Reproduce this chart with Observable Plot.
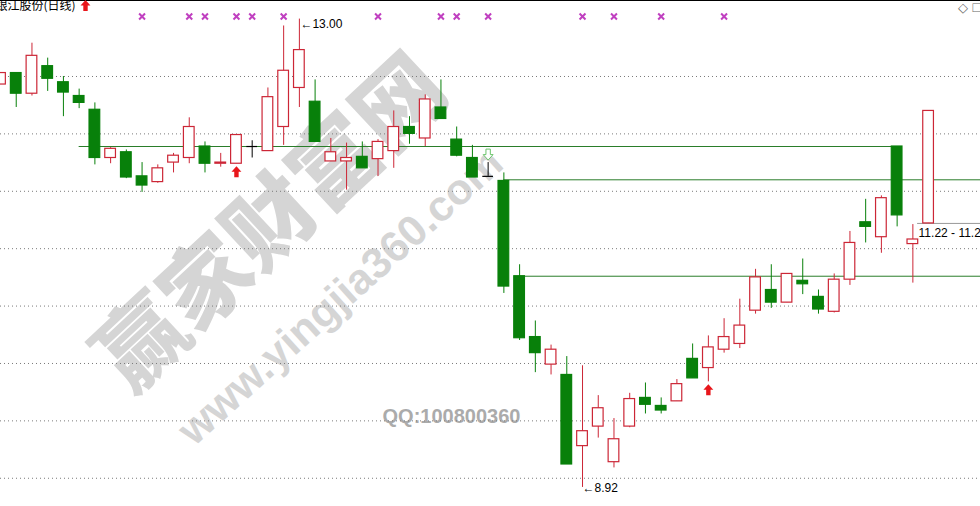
<!DOCTYPE html>
<html>
<head>
<meta charset="utf-8">
<script src="https://cdn.jsdelivr.net/npm/d3@7"></script>
<script src="https://cdn.jsdelivr.net/npm/@observablehq/plot@0.6"></script>
<style>
  html, body { margin: 0; padding: 0; background: #fff; }
  #chart svg { display: block; overflow: hidden; }
</style>
</head>
<body>
<div id="chart"></div>
<script>
// ---- data (daily candles, left to right) ----
const opens  = [12.43,12.53,12.35,12.59,12.45,12.33,12.21,11.79,11.84,11.63,11.58,11.75,11.79,11.89,11.74,11.74,11.89,11.85,12.06,12.40,12.28,11.76,11.76,11.80,11.78,11.85,12.06,11.96,12.23,11.95,11.79,11.63,11.59,10.76,10.23,9.99,9.90,9.28,9.45,9.14,9.45,9.70,9.63,9.67,10.04,9.96,10.12,10.17,10.46,10.64,10.53,10.72,10.58,10.45,10.73,11.23,11.10,11.89,11.04,11.22];
const closes = [12.53,12.35,12.68,12.48,12.36,12.27,11.79,11.87,11.62,11.55,11.70,11.81,12.06,11.74,11.75,11.99,11.89,12.32,12.55,12.73,11.93,11.84,11.79,11.70,11.93,12.06,12.00,12.30,12.13,11.81,11.62,11.63,10.67,10.22,10.09,10.12,9.12,9.41,9.61,9.34,9.69,9.64,9.59,9.82,9.87,10.14,10.23,10.33,10.75,10.53,10.78,10.69,10.47,10.73,11.05,11.19,11.44,11.29,11.08,12.20];
const highs  = [12.53,12.53,12.79,12.66,12.50,12.39,12.27,11.88,11.86,11.75,11.73,11.83,12.14,11.93,11.83,11.99,11.94,12.40,12.94,13.00,12.47,11.96,11.92,11.93,11.95,12.20,12.15,12.34,12.47,12.06,11.90,11.75,11.66,10.86,10.37,10.16,10.06,9.98,9.72,9.52,9.74,9.83,9.70,9.86,10.17,10.24,10.39,10.56,10.82,10.86,10.78,10.91,10.64,10.78,11.15,11.43,11.46,11.89,11.21,12.20];
const lows   = [12.43,12.23,12.33,12.37,12.15,12.22,11.73,11.74,11.61,11.49,11.57,11.66,11.74,11.66,11.71,11.74,11.79,11.85,11.90,12.23,11.93,11.76,11.51,11.70,11.63,11.70,11.91,11.89,12.13,11.80,11.62,11.63,10.61,10.20,9.92,9.90,9.12,8.92,9.35,9.09,9.44,9.56,9.56,9.67,9.87,9.84,10.09,10.13,10.43,10.48,10.53,10.60,10.43,10.44,10.68,11.05,10.96,11.19,10.70,11.22];

const gridLevels  = [9.0, 9.5, 10.0, 10.5, 11.0, 11.5, 12.0, 12.5];
const lineLevels  = [11.89, 11.60, 10.76];
const lineStarts  = [5, 32, 33];
const lineEnds    = [57, null, null];
const markerIdx   = [9, 12, 13, 15, 16, 18, 24, 28, 29, 31, 37, 39, 42, 46];
const buyIdx      = [15, 45];
const sellIdx     = [31];
const highLabelIdx = 19;
const lowLabelIdx  = 37;
const lastIdx      = 59;
const titleText = "银江股份(日线)";

// ---- build table ----
const candles = opens.map((o, i) => ({i, o, c: closes[i], h: highs[i], l: lows[i]}));
const RED = "#cc2636", GREEN = "#08800a", LINE = "#2a7d2a";
const colorOf = d => d.c > d.o ? RED : d.c < d.o ? GREEN : "#000";
const half = 0.34;
const xMax = 62.3;
const bodies = candles.filter(d => d.c !== d.o);
const dojis = candles.filter(d => d.c === d.o);
const lines = lineLevels.map((v, k) => ({v, a: lineStarts[k], b: lineEnds[k] == null ? xMax : lineEnds[k]}));

const upArrow = {draw(ctx, size) {
  const r = Math.sqrt(size / Math.PI);
  ctx.moveTo(0, -r); ctx.lineTo(0.9 * r, 0); ctx.lineTo(0.4 * r, 0); ctx.lineTo(0.4 * r, r);
  ctx.lineTo(-0.4 * r, r); ctx.lineTo(-0.4 * r, 0); ctx.lineTo(-0.9 * r, 0); ctx.closePath();
}};
const downArrow = {draw(ctx, size) {
  const r = Math.sqrt(size / Math.PI);
  ctx.moveTo(0, r); ctx.lineTo(0.9 * r, 0); ctx.lineTo(0.4 * r, 0); ctx.lineTo(0.4 * r, -r);
  ctx.lineTo(-0.4 * r, -r); ctx.lineTo(-0.4 * r, 0); ctx.lineTo(-0.9 * r, 0); ctx.closePath();
}};

const numFont = "'Liberation Sans', Arial, sans-serif";
const cjkFont = "'Noto Sans CJK SC', sans-serif";

const chart = Plot.plot({
  width: 980,
  height: 506,
  margin: 0,
  x: {domain: [0, xMax], axis: null},
  y: {domain: [8.754, 13.162], axis: null},
  style: {background: "#fff", fontFamily: numFont},
  marks: [
    // watermark
    Plot.text([titleText], {text: () => "赢家财富网", frameAnchor: "top-left", dx: 272, dy: 224, rotate: -43,
      textAnchor: "middle", lineAnchor: "middle",
      fontSize: 88, fontWeight: 900, fill: "#d5d5d5", fontFamily: cjkFont}),
    Plot.text([titleText], {text: () => "www.yingjia360.com", frameAnchor: "top-left", dx: 340, dy: 296, rotate: -42,
      textAnchor: "middle", lineAnchor: "middle",
      fontSize: 43, fontWeight: "bold", fill: "#d5d5d5", fontFamily: numFont}),
    Plot.text([titleText], {text: () => "QQ:100800360", frameAnchor: "top-left", dx: 451, dy: 416,
      textAnchor: "middle", lineAnchor: "middle",
      fontSize: 20, fontWeight: "bold", fill: "#ababab", fontFamily: numFont}),
    // grid
    Plot.ruleY(gridLevels, {stroke: "#7a7a7a", strokeDasharray: "1,3"}),
    Plot.frame({anchor: "top", stroke: "#000"}),
    // support lines
    Plot.ruleY(lines, {y: "v", x1: "a", x2: "b", stroke: LINE, strokeWidth: 1}),
    // price label line of last candle
    Plot.ruleY([candles[lastIdx]], {y: "o", x1: d => d.i - 0.7, x2: xMax, stroke: "#999"}),
    // wicks
    Plot.ruleX(candles, {x: "i", y1: "l", y2: "h", stroke: colorOf, strokeWidth: 1}),
    // bodies
    Plot.rect(bodies, {x1: d => d.i - half, x2: d => d.i + half, y1: "o", y2: "c",
      fill: d => d.c > d.o ? "#fff" : GREEN, stroke: colorOf, strokeWidth: 1.2}),
    // doji crosses
    Plot.ruleY(dojis, {y: "o", x1: d => d.i - half, x2: d => d.i + half, stroke: "#000", strokeWidth: 1.2}),
    // signal markers
    Plot.dot(markerIdx, {x: d => d, frameAnchor: "top", dy: 16, symbol: "times", r: 2.8, stroke: "#c040c0", strokeWidth: 2}),
    Plot.dot(buyIdx.map(i => candles[i]), {x: "i", y: "l", dy: 8, symbol: upArrow, r: 5.5, fill: "#e8161b", stroke: "none"}),
    Plot.dot(sellIdx.map(i => candles[i]), {x: "i", y: "h", dy: -8, symbol: downArrow, r: 5.5, fill: "#fff", stroke: "#6cc46c", strokeWidth: 1}),
    // high / low labels
    Plot.text([candles[highLabelIdx]], {x: "i", y: "h", text: d => "←" + d.h.toFixed(2), textAnchor: "start", dx: 1, dy: 5, fontSize: 12, fill: "#000"}),
    Plot.text([candles[lowLabelIdx]], {x: "i", y: "l", text: d => "←" + d.l.toFixed(2), textAnchor: "start", dx: 0, dy: 1, fontSize: 12, fill: "#000"}),
    Plot.text([candles[lastIdx]], {x: "i", y: "o", text: d => `${d.o.toFixed(2)} - ${d.o.toFixed(2)}`, textAnchor: "start", dx: -10, dy: 10, fontSize: 12, fill: "#000"}),
    // title
    Plot.text([titleText], {text: d => d, frameAnchor: "top-left", dx: -5, dy: 1, lineAnchor: "top", textAnchor: "start",
      fontSize: 12, fill: "#000", fontFamily: cjkFont}),
    Plot.dot([titleText], {frameAnchor: "top-left", dx: 85, dy: 5, symbol: upArrow, r: 5.5, fill: "#e8161b", stroke: "none"}),
    Plot.text([titleText], {text: () => "◇", frameAnchor: "top-left", dx: 962, dy: 7, textAnchor: "middle", lineAnchor: "middle", fontSize: 13, fill: "#666"}),
    Plot.text([titleText], {text: () => "□", frameAnchor: "top-left", dx: 972, dy: 7, textAnchor: "start", lineAnchor: "middle", fontSize: 14, fill: "#666"})
  ]
});
document.getElementById("chart").appendChild(chart);
</script>
</body>
</html>
